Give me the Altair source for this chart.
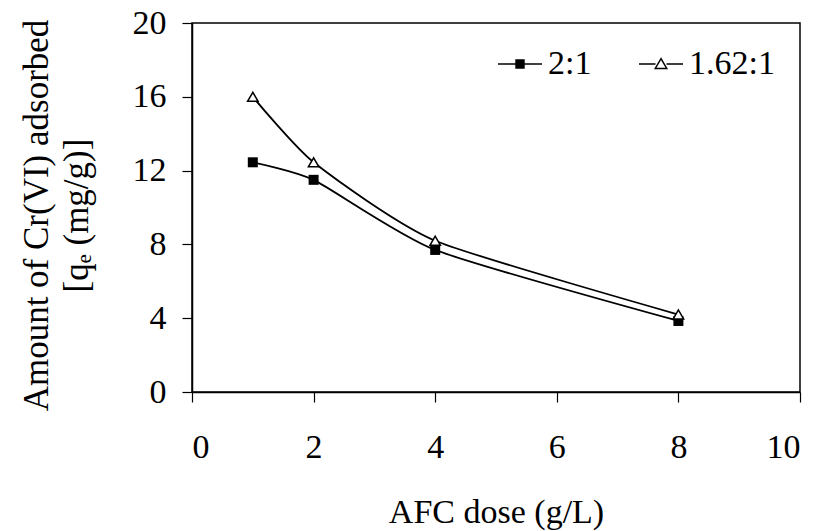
import altair as alt
import pandas as pd

# Data
dose = [1, 2, 4, 8]
series_names = ["2:1", "1.62:1"]
q_2_1 = [12.45, 11.5, 7.7, 3.85]
q_162_1 = [16.0, 12.45, 8.2, 4.2]
x_ticks = [0, 2, 4, 6, 8, 10]
y_ticks = [0, 4, 8, 12, 16, 20]

rows = []
for d, v in zip(dose, q_2_1):
    rows.append({"dose": d, "q": v, "series": series_names[0]})
for d, v in zip(dose, q_162_1):
    rows.append({"dose": d, "q": v, "series": series_names[1]})
df = pd.DataFrame(rows)

FONT = "Liberation Serif"
FS = 34

x_enc = alt.X(
    "dose:Q",
    scale=alt.Scale(domain=[0, 10], nice=False),
    axis=alt.Axis(values=x_ticks, title="AFC dose (g/L)", labelPadding=28,
                  titlePadding=31, format="d"),
)
y_enc = alt.Y(
    "q:Q",
    scale=alt.Scale(domain=[0, 20], nice=False),
    axis=alt.Axis(values=y_ticks, title=["Amount of Cr(VI) adsorbed", "[qₑ (mg/g)]"],
                  labelPadding=16, titlePadding=38, titleLineHeight=40,
                  titleFontSize=35, titleY=192, format="d"),
)

base = alt.Chart(df)

lines = base.mark_line(interpolate="cardinal", tension=0.4, color="black", strokeWidth=1.8).encode(
    x=x_enc, y=y_enc, detail="series:N"
)

squares = base.transform_filter(alt.datum.series == "2:1").mark_point(
    shape="square", filled=True, color="black", size=100, opacity=1
).encode(x=x_enc, y=y_enc)

triangles = base.transform_filter(alt.datum.series == "1.62:1").mark_point(
    shape="triangle-up", filled=True, fill="white", stroke="black", strokeWidth=1.5,
    size=110, opacity=1
).encode(x=x_enc, y=y_enc)

sq_path = "M-1,0H1M-0.18,-0.18H0.18V0.18H-0.18Z"
tri_path = "M-1,0H-0.25M0.25,0H1M0,-0.24L0.26,0.2L-0.26,0.2Z"

leg = alt.Legend(
    title=None, orient="none", direction="horizontal", legendX=305, legendY=18,
    labelFont=FONT, labelFontSize=FS, labelColor="black", labelOffset=5,
    columnPadding=44, symbolSize=1936, symbolStrokeColor="black",
    symbolStrokeWidth=1.5, symbolOpacity=1, padding=0,
)

legend_layer = base.transform_filter("false").mark_point(
    filled=True, strokeWidth=1.5, opacity=1
).encode(
    x=x_enc, y=y_enc,
    shape=alt.Shape("series:N", scale=alt.Scale(domain=series_names, range=[sq_path, tri_path]), legend=leg),
    fill=alt.Fill("series:N", scale=alt.Scale(domain=series_names, range=["black", "white"]), legend=leg),
    stroke=alt.Stroke("series:N", scale=alt.Scale(domain=series_names, range=["black", "black"]), legend=leg),
)

chart = alt.layer(lines, squares, triangles, legend_layer).properties(
    width=608, height=369,
    autosize=alt.AutoSizeParams(type="none"),
    padding={"left": 192, "top": 23, "right": 20, "bottom": 139},
    background="white",
).configure_view(
    stroke="black", strokeWidth=1.5
).configure_axis(
    grid=False, domainColor="black", domainWidth=1.5, tickColor="black", tickWidth=1.2,
    tickSize=10, labelFont=FONT, labelFontSize=FS, labelColor="black",
    titleFont=FONT, titleFontSize=FS, titleFontWeight="normal", titleColor="black",
)

chart.save("out.html", embed_options={"renderer": "svg", "actions": False})
